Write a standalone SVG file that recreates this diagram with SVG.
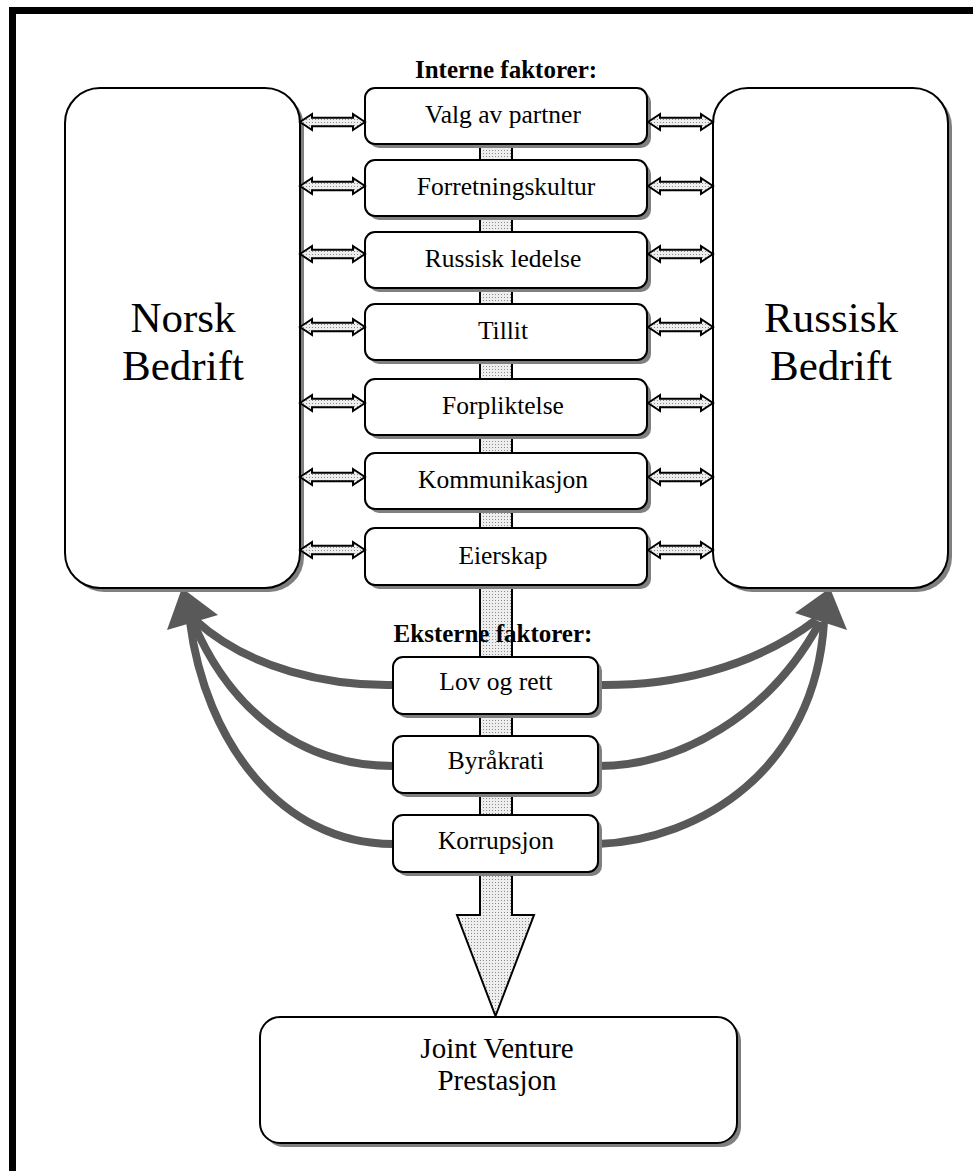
<svg xmlns="http://www.w3.org/2000/svg" width="973" height="1171" viewBox="0 0 973 1171">
<defs>
<pattern id="dots" width="3" height="3" patternUnits="userSpaceOnUse">
<rect width="3" height="3" fill="#eeeeee"/>
<rect width="1" height="1" fill="#8a8a8a"/>
</pattern>
<path id="dbl" d="M0,0 L12,-8 L12,-4.2 L53,-4.2 L53,-8 L65,0 L53,8 L53,4.2 L12,4.2 L12,8 Z"/>
</defs>
<style>
.box{fill:#ffffff;stroke:#000000;stroke-width:2}
.shadow{fill:#808080;stroke:none}
.t{font-family:"Liberation Serif","Times New Roman",serif;font-size:25.5px;fill:#000;text-anchor:middle}
.big{font-size:43px}
.jv{font-size:29px}
.hdr{font-weight:bold;font-size:25px}
.dbl{fill:url(#dots);stroke:#000;stroke-width:2;stroke-linejoin:miter}
.curve{fill:none;stroke:#595959;stroke-width:8}
.head{fill:#595959;stroke:none}
.bar{fill:url(#dots);stroke:#000;stroke-width:2}
</style>
<rect width="973" height="1171" fill="#ffffff"/>
<g id="frame">
<rect x="9" y="7" width="964" height="7" fill="#000"/>
<rect x="9" y="7" width="7" height="1164" fill="#000"/>
</g>
<g id="connectors">
<path class="bar" d="M480,110 L480,915 L457,915 L495.5,1016 L534,915 L512,915 L512,110"/>
<path class="curve" d="M393,685 C330,686 250,670 195,620"/>
<path class="curve" d="M393,766 C300,766 230,710 193,622"/>
<path class="curve" d="M393,844 C280,844 205,740 190,622"/>
<polygon class="head" points="182,588 167,630 218,615"/>
<path class="curve" d="M598,685 C670,686 750,670 816,620"/>
<path class="curve" d="M598,766 C680,766 770,715 820,622"/>
<path class="curve" d="M598,844 C700,840 815,770 824,622"/>
<polygon class="head" points="830,588 795,613 847,630"/>
</g>
<g id="norsk">
<rect class="shadow" x="69" y="92" width="235" height="500" rx="35"/>
<rect class="box" x="65" y="88" width="235" height="500" rx="35"/>
<text class="t big" x="183" y="332">Norsk</text>
<text class="t big" x="183" y="380">Bedrift</text>
</g>
<g id="russisk">
<rect class="shadow" x="717" y="92" width="235" height="500" rx="35"/>
<rect class="box" x="713" y="88" width="235" height="500" rx="35"/>
<text class="t big" x="831" y="332">Russisk</text>
<text class="t big" x="831" y="380">Bedrift</text>
</g>
<text class="t hdr" x="506" y="78">Interne faktorer:</text>
<g id="valg">
<rect class="shadow" x="369" y="92" width="282" height="56" rx="10"/>
<rect class="box" x="365" y="88" width="282" height="56" rx="10"/>
<text class="t" x="503" y="123">Valg av partner</text>
</g>
<g id="forretningskultur">
<rect class="shadow" x="369" y="164" width="282" height="56" rx="10"/>
<rect class="box" x="365" y="160" width="282" height="56" rx="10"/>
<text class="t" x="506" y="195">Forretningskultur</text>
</g>
<g id="ledelse">
<rect class="shadow" x="369" y="236" width="282" height="56" rx="10"/>
<rect class="box" x="365" y="232" width="282" height="56" rx="10"/>
<text class="t" x="503" y="267">Russisk ledelse</text>
</g>
<g id="tillit">
<rect class="shadow" x="369" y="308" width="282" height="56" rx="10"/>
<rect class="box" x="365" y="304" width="282" height="56" rx="10"/>
<text class="t" x="503" y="339">Tillit</text>
</g>
<g id="forpliktelse">
<rect class="shadow" x="369" y="383" width="282" height="56" rx="10"/>
<rect class="box" x="365" y="379" width="282" height="56" rx="10"/>
<text class="t" x="503" y="414">Forpliktelse</text>
</g>
<g id="kommunikasjon">
<rect class="shadow" x="369" y="457" width="282" height="56" rx="10"/>
<rect class="box" x="365" y="453" width="282" height="56" rx="10"/>
<text class="t" x="503" y="488">Kommunikasjon</text>
</g>
<g id="eierskap">
<rect class="shadow" x="369" y="532" width="282" height="57" rx="10"/>
<rect class="box" x="365" y="528" width="282" height="57" rx="10"/>
<text class="t" x="503" y="564">Eierskap</text>
</g>
<g id="arrows">
<use href="#dbl" class="dbl" x="300" y="122"/>
<use href="#dbl" class="dbl" x="300" y="186"/>
<use href="#dbl" class="dbl" x="300" y="254"/>
<use href="#dbl" class="dbl" x="300" y="327"/>
<use href="#dbl" class="dbl" x="300" y="403"/>
<use href="#dbl" class="dbl" x="300" y="477"/>
<use href="#dbl" class="dbl" x="300" y="550"/>
<use href="#dbl" class="dbl" x="648" y="122"/>
<use href="#dbl" class="dbl" x="648" y="186"/>
<use href="#dbl" class="dbl" x="648" y="254"/>
<use href="#dbl" class="dbl" x="648" y="327"/>
<use href="#dbl" class="dbl" x="648" y="403"/>
<use href="#dbl" class="dbl" x="648" y="477"/>
<use href="#dbl" class="dbl" x="648" y="550"/>
</g>
<text class="t hdr" x="493" y="642">Eksterne faktorer:</text>
<g id="lov">
<rect class="shadow" x="397" y="661" width="205" height="57" rx="10"/>
<rect class="box" x="393" y="657" width="205" height="57" rx="10"/>
<text class="t" x="496" y="690">Lov og rett</text>
</g>
<g id="byrakrati">
<rect class="shadow" x="397" y="740" width="205" height="57" rx="10"/>
<rect class="box" x="393" y="736" width="205" height="57" rx="10"/>
<text class="t" x="496" y="769">Byråkrati</text>
</g>
<g id="korrupsjon">
<rect class="shadow" x="397" y="819" width="205" height="57" rx="10"/>
<rect class="box" x="393" y="815" width="205" height="57" rx="10"/>
<text class="t" x="496" y="849">Korrupsjon</text>
</g>
<g id="jv">
<rect class="shadow" x="264" y="1021" width="477" height="126" rx="20"/>
<rect class="box" x="260" y="1017" width="477" height="126" rx="20"/>
<text class="t jv" x="497" y="1058">Joint Venture</text>
<text class="t jv" x="497" y="1090">Prestasjon</text>
</g>
</svg>
